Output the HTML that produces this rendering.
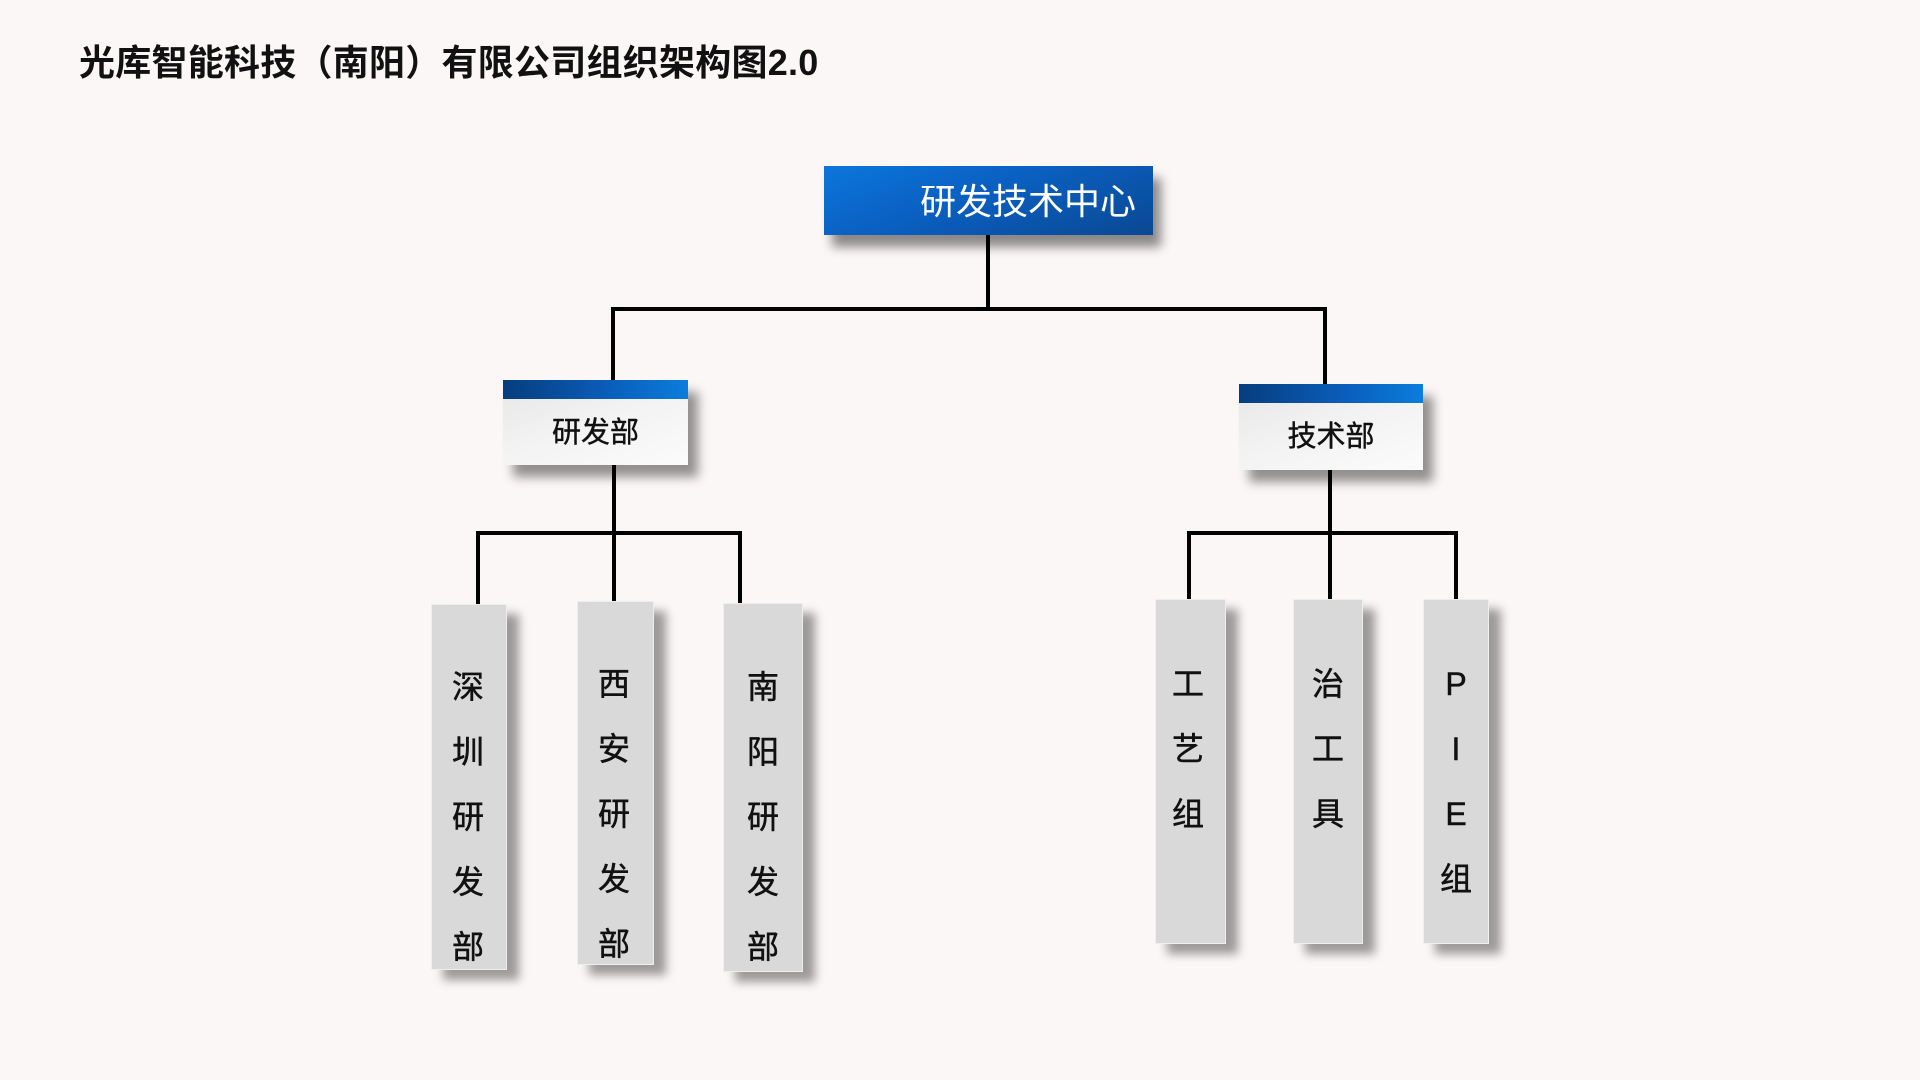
<!DOCTYPE html>
<html>
<head>
<meta charset="utf-8">
<style>
  html,body{margin:0;padding:0;}
  body{width:1920px;height:1080px;background:#fcf7f7;position:relative;overflow:hidden;
       font-family:"Liberation Sans","Noto Sans CJK SC",sans-serif;}
  .abs{position:absolute;}
  .title{left:79px;top:43px;font-size:36px;line-height:40px;font-weight:bold;color:#111;white-space:nowrap;letter-spacing:0.25px;
         font-family:"Liberation Sans","Noto Sans CJK SC",sans-serif;}
  .ln{position:absolute;background:#000;}
  .root{left:824px;top:166px;width:329px;height:69px;
        background:linear-gradient(160deg,#0c76dc 0%,#0a5fc0 45%,#0a4893 100%);
        box-shadow:8px 12px 10px rgba(0,0,0,0.45);}
  .roottxt{left:920px;top:182px;width:230px;font-size:36px;line-height:40px;color:#fff;white-space:nowrap;}
  .dept{position:absolute;box-shadow:10px 12px 10px rgba(0,0,0,0.42);
        background:linear-gradient(160deg,#e6e6e6 0%,#f3f3f3 50%,#fbfbfb 100%);}
  .bar{position:absolute;left:0;top:0;right:0;height:19px;
       background:linear-gradient(90deg,#073d7e 0%,#0a5cb8 55%,#0b7ddd 100%);}
  .dtxt{position:absolute;font-size:29px;line-height:34px;color:#111;white-space:nowrap;text-align:center;-webkit-text-stroke:0.4px #111;}
  .leaf{position:absolute;background:#d9d9d9;border:1px solid #eeeeee;box-sizing:border-box;
        box-shadow:12px 10px 9px rgba(0,0,0,0.38);}
  .vt{position:absolute;width:60px;font-size:32px;line-height:65px;color:#111;text-align:center;-webkit-text-stroke:0.5px #111;}
</style>
</head>
<body>
<div class="abs title">光库智能科技（南阳）有限公司组织架构图2.0</div>

<!-- connectors -->
<div class="ln" style="left:986px;top:234px;width:4px;height:77px;"></div>
<div class="ln" style="left:611px;top:307px;width:716px;height:4px;"></div>
<div class="ln" style="left:611px;top:307px;width:4px;height:75px;"></div>
<div class="ln" style="left:1323px;top:307px;width:4px;height:78px;"></div>

<div class="ln" style="left:612px;top:464px;width:4px;height:71px;"></div>
<div class="ln" style="left:476px;top:531px;width:266px;height:4px;"></div>
<div class="ln" style="left:476px;top:531px;width:4px;height:74px;"></div>
<div class="ln" style="left:612px;top:531px;width:4px;height:71px;"></div>
<div class="ln" style="left:738px;top:531px;width:4px;height:73px;"></div>

<div class="ln" style="left:1328px;top:469px;width:4px;height:66px;"></div>
<div class="ln" style="left:1187px;top:531px;width:271px;height:4px;"></div>
<div class="ln" style="left:1187px;top:531px;width:4px;height:69px;"></div>
<div class="ln" style="left:1328px;top:531px;width:4px;height:69px;"></div>
<div class="ln" style="left:1454px;top:531px;width:4px;height:69px;"></div>

<!-- root -->
<div class="abs root"></div>
<div class="abs roottxt">研发技术中心</div>

<!-- departments -->
<div class="dept" style="left:503px;top:380px;width:185px;height:85px;"><div class="bar"></div></div>
<div class="dtxt" style="left:503px;top:416px;width:185px;">研发部</div>

<div class="dept" style="left:1239px;top:384px;width:184px;height:86px;"><div class="bar"></div></div>
<div class="dtxt" style="left:1239px;top:420px;width:184px;">技术部</div>

<!-- leaves left -->
<div class="leaf" style="left:431px;top:604px;width:76px;height:366px;"></div>
<div class="vt" style="left:438px;top:655px;">深<br>圳<br>研<br>发<br>部</div>

<div class="leaf" style="left:577px;top:601px;width:77px;height:364px;"></div>
<div class="vt" style="left:584px;top:652px;">西<br>安<br>研<br>发<br>部</div>

<div class="leaf" style="left:723px;top:603px;width:80px;height:369px;"></div>
<div class="vt" style="left:733px;top:655px;">南<br>阳<br>研<br>发<br>部</div>

<!-- leaves right -->
<div class="leaf" style="left:1155px;top:599px;width:71px;height:345px;"></div>
<div class="vt" style="left:1158px;top:652px;">工<br>艺<br>组</div>

<div class="leaf" style="left:1293px;top:599px;width:70px;height:345px;"></div>
<div class="vt" style="left:1298px;top:652px;">治<br>工<br>具</div>

<div class="leaf" style="left:1423px;top:599px;width:66px;height:345px;"></div>
<div class="vt" style="left:1426px;top:652px;">P<br>I<br>E<br>组</div>
</body>
</html>
